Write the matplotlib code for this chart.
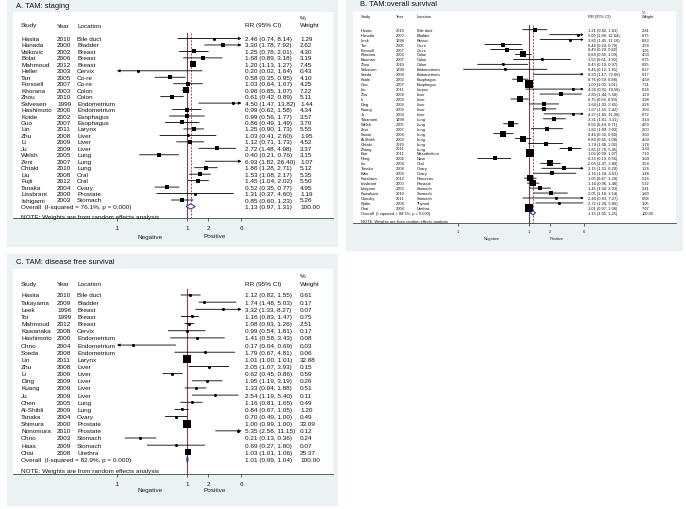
import matplotlib.pyplot as plt
import numpy as np
from matplotlib.patches import Rectangle, Polygon
from matplotlib.ticker import NullLocator
from matplotlib.transforms import blended_transform_factory

plt.rcParams['font.family'] = ['Liberation Sans', 'DejaVu Sans']

# ---------------- A. TAM: staging
a_study = ['Hasita', 'Hanada', 'Valkovic', 'Bolat', 'Mahmoud', 'Heller', 'Tan', 'Forssell', 'Khorana',
           'Zhou', 'Salvesen', 'Hashimoto', 'Koide', 'Guo', 'Lin', 'Zhu', 'Li', 'Ju', 'Welsh', 'Zeni',
           'Ohtaki', 'Liu', 'Fujii', 'Tanaka', 'Lissbrant', 'Ishigami']
a_year = [2010, 2000, 2002, 2006, 2012, 2003, 2005, 2007, 2003, 2010, 1999, 2000, 2002, 2007, 2011,
          2008, 2009, 2009, 2005, 2007, 2010, 2008, 2012, 2004, 2000, 2003]
a_loc = ['Bile duct', 'Bladder', 'Breast', 'Breast', 'Breast', 'Cervix', 'Co-re', 'Co-re', 'Colon',
         'Colon', 'Endometrium', 'Endometrium', 'Esophagus', 'Esophagus', 'Larynx', 'Liver', 'Liver',
         'Liver', 'Lung', 'Lung', 'Lung', 'Oral', 'Oral', 'Ovary', 'Prostate', 'Stomach']
a_rr = [2.46, 3.30, 1.25, 1.68, 1.20, 0.20, 0.58, 1.03, 0.96, 0.61, 4.50, 0.99, 0.99, 0.86, 1.25,
        1.03, 1.12, 2.72, 0.40, 6.93, 1.86, 1.53, 1.45, 0.52, 1.31, 0.85]
a_lo = [0.74, 1.78, 0.78, 0.89, 1.13, 0.02, 0.35, 0.64, 0.85, 0.42, 1.47, 0.62, 0.56, 0.49, 0.90,
        0.41, 0.71, 1.48, 0.21, 1.82, 1.28, 1.08, 1.04, 0.35, 0.37, 0.60]
a_hi = [8.14, 7.92, 2.01, 3.18, 1.27, 1.64, 0.95, 1.67, 1.07, 0.89, 13.82, 1.58, 1.77, 1.49, 1.73,
        2.60, 1.73, 4.98, 0.76, 26.40, 2.71, 2.17, 2.02, 0.77, 4.60, 1.23]
a_wt = [1.29, 2.62, 4.30, 3.19, 7.45, 0.43, 4.10, 4.25, 7.22, 5.11, 1.44, 4.34, 3.57, 3.70, 5.55,
        1.95, 4.52, 3.37, 3.15, 1.07, 5.12, 5.35, 5.50, 4.95, 1.19, 5.26]
a_overall = [1.13, 0.97, 1.31]
a_i2 = '76.1%'

# ---------------- B. TAM: overall survival
b_study = ['Hasita', 'Hanada', 'Leek', 'Tan', 'Forssell', 'Khorana', 'Bauman', 'Zhou', 'Salvesen',
           'Soeda', 'Koide', 'Guo', 'Lin', 'Zhu', 'Li', 'Ding', 'Kuang', 'Ju', 'Takanami', 'Welsh',
           'Zeni', 'Kawai', 'Al-Shibli', 'Ohtaki', 'Zhang', 'Burt', 'Peng', 'Liu', 'Tanaka', 'Wan',
           'Kurahara', 'Lissbrant', 'Ishigami', 'Kawahara', 'Osinsky', 'Ryder', 'Chai']
b_year = [2010, 2000, 1996, 2005, 2007, 2003, 2007, 2010, 1999, 2008, 2002, 2007, 2011, 2008, 2009,
          2009, 2009, 2009, 1999, 2005, 2007, 2008, 2009, 2010, 2011, 2011, 2006, 2008, 2004, 2009,
          2012, 2000, 2003, 2010, 2011, 2008, 2008]
b_loc = ['Bile duct', 'Bladder', 'Breast', 'Co-re', 'Co-re', 'Colon', 'Colon', 'Colon', 'Endometrium',
         'Endometrium', 'Esophagus', 'Esophagus', 'Larynx', 'Liver', 'Liver', 'Liver', 'Liver', 'Liver',
         'Lung', 'Lung', 'Lung', 'Lung', 'Lung', 'Lung', 'Lung', 'Mesothelium', 'Nose', 'Oral', 'Ovary',
         'Ovary', 'Pancreas', 'Prostate', 'Stomach', 'Stomach', 'Stomach', 'Thyroid', 'Urethra']
b_rr = [1.21, 5.00, 3.82, 0.44, 0.49, 0.84, 1.55, 0.43, 0.46, 9.20, 0.76, 1.00, 4.26, 2.83, 0.75,
        1.64, 1.67, 4.27, 2.31, 0.56, 1.82, 0.44, 0.84, 1.74, 3.85, 1.03, 0.33, 2.03, 3.15, 2.16,
        1.05, 1.16, 1.45, 2.05, 2.46, 2.72, 1.01]
b_lo = [0.82, 1.98, 1.45, 0.24, 0.29, 0.65, 0.61, 0.19, 0.12, 1.17, 0.59, 1.00, 0.91, 1.44, 0.56,
        1.03, 1.15, 1.65, 1.61, 0.44, 1.09, 0.32, 0.65, 1.00, 2.76, 0.99, 0.19, 1.47, 1.53, 1.18,
        0.87, 0.96, 1.04, 1.18, 0.83, 1.26, 0.97]
b_hi = [1.81, 12.64, 11.16, 0.79, 0.82, 1.09, 3.92, 0.97, 1.81, 72.68, 0.98, 1.01, 19.58, 5.58, 0.99,
        2.65, 2.42, 11.06, 3.31, 0.71, 3.03, 0.60, 1.08, 3.02, 5.45, 1.07, 0.56, 2.80, 6.29, 4.63,
        1.28, 1.40, 2.03, 3.54, 7.27, 5.86, 1.06]
b_wt = [2.81, 0.75, 0.83, 1.58, 1.95, 4.33, 0.75, 0.95, 0.37, 0.17, 4.39, 7.21, 0.36, 1.29, 3.98,
        2.26, 3.03, 0.72, 3.14, 4.59, 2.00, 3.63, 4.39, 1.78, 3.34, 7.10, 1.64, 3.54, 1.26, 1.48,
        5.26, 5.32, 3.41, 1.60, 0.58, 1.05, 7.07]
b_overall = [1.15, 1.05, 1.25]
b_i2 = '88.5%'

# ---------------- C. TAM: disease free survival
c_study = ['Hasita', 'Takayama', 'Leek', 'Toi', 'Mahmoud', 'Kawanaka', 'Hashimoto', 'Ohno', 'Soeda',
           'Lin', 'Zhu', 'Li', 'Ding', 'Kuang', 'Ju', 'Chen', 'Al-Shibli', 'Tanaka', 'Shimura',
           'Nonomura', 'Ohno', 'Haas', 'Chai']
c_year = [2010, 2009, 1996, 1999, 2012, 2008, 2000, 2004, 2008, 2011, 2008, 2009, 2009, 2009, 2009,
          2005, 2009, 2004, 2000, 2010, 2003, 2009, 2008]
c_loc = ['Bile duct', 'Bladder', 'Breast', 'Breast', 'Breast', 'Cervix', 'Endometrium', 'Endometrium',
         'Endometrium', 'Larynx', 'Liver', 'Liver', 'Liver', 'Liver', 'Liver', 'Lung', 'Lung', 'Ovary',
         'Prostate', 'Prostate', 'Stomach', 'Stomach', 'Urethra']
c_rr = [1.12, 1.74, 3.32, 1.16, 1.08, 0.99, 1.41, 0.17, 1.79, 1.01, 2.05, 0.62, 1.95, 1.33, 2.54,
        1.16, 0.84, 0.70, 1.00, 5.35, 0.21, 0.69, 1.03]
c_lo = [0.82, 1.48, 1.33, 0.83, 0.93, 0.54, 0.58, 0.04, 0.67, 1.00, 1.07, 0.45, 1.19, 0.94, 1.19,
        0.81, 0.67, 0.49, 0.99, 2.56, 0.13, 0.27, 1.01]
c_hi = [1.55, 5.03, 8.27, 1.47, 1.26, 1.81, 3.43, 0.69, 4.81, 1.01, 3.93, 0.86, 3.19, 1.88, 5.40,
        1.65, 1.05, 1.00, 1.00, 11.15, 0.36, 1.80, 1.06]
c_wt = [0.61, 0.17, 0.07, 0.75, 2.51, 0.17, 0.08, 0.03, 0.06, 32.88, 0.15, 0.59, 0.26, 0.51, 0.11,
        0.49, 1.20, 0.49, 33.09, 0.12, 0.24, 0.07, 25.37]
c_overall = [1.01, 0.99, 1.04]
c_i2 = '82.9%'

tick_vals = [0.1, 1, 2, 6]
tick_labels = ['.1', '1', '2', '6']

W, H = 686, 510
BG = '#eaf2f3'
fig = plt.figure(figsize=(W / 100, H / 100), dpi=100)
fig.patch.set_facecolor('white')


def forest(title, study, year, loc, rr, lo, hi, wt, overall, i2, lay):
    """ Draw one Stata style forest plot inside a pixel box of the figure """
    bx0, by0, bx1, by1 = lay['bg']
    fig.patches.append(Rectangle((bx0 / W, 1 - by1 / H), (bx1 - bx0) / W, (by1 - by0) / H,
                                 transform=fig.transFigure, facecolor=BG, edgecolor='none', zorder=-5))
    px0, py0, px1, py1 = lay['plot']
    ax = fig.add_axes([px0 / W, 1 - py1 / H, (px1 - px0) / W, (py1 - py0) / H])
    ax.set_zorder(1)
    r0, dr = lay['row0'], lay['drow']

    def row(ypx):
        return (ypx - r0) / dr

    x1, dec = lay['x1'], lay['dec']
    ax.set_xscale('log')
    ax.set_xlim(10 ** ((px0 - x1) / dec), 10 ** ((px1 - x1) / dec))
    ybot, ytop = row(py1), row(py0)
    ax.set_ylim(ybot, ytop)
    ax.set_facecolor('white')
    for s in ['top', 'left', 'right']:
        ax.spines[s].set_visible(False)
    ax.spines['bottom'].set_color('#444444')
    ax.spines['bottom'].set_linewidth(0.6)
    ax.set_yticks([])
    ax.set_xticks(tick_vals)
    ax.set_xticklabels(tick_labels)
    ax.xaxis.set_minor_locator(NullLocator())
    fs = lay['fs']
    ax.tick_params(axis='x', length=lay['tlen'], width=0.5, pad=lay['pad'], labelsize=fs,
                   colors='#222222')

    cmin, cmax = tick_vals[0], tick_vals[-1]
    n = len(study)
    # reference lines
    ax.plot([1, 1], [-0.9, ybot], color='#555555', lw=0.8, zorder=1)
    ax.plot([overall[0]] * 2, [-0.9, ybot], color='#d62728', lw=0.6, ls=(0, (2.5, 1.5)), zorder=1)

    # studies
    for i in range(n):
        l, h = max(lo[i], cmin), min(hi[i], cmax)
        if lo[i] < cmin and hi[i] > cmax:
            style = '<|-|>'
        elif hi[i] > cmax:
            style = '-|>'
        elif lo[i] < cmin:
            style = '<|-'
        else:
            style = '-'
        ax.annotate('', xy=(h, i), xytext=(l, i),
                    arrowprops=dict(arrowstyle=style, color='black', lw=0.6,
                                    mutation_scale=lay['arrow'], shrinkA=0, shrinkB=0))
        if cmin <= rr[i] <= cmax:
            side = lay['box'] * np.sqrt(wt[i]) * 0.72
            ax.scatter(rr[i], i, s=side ** 2, marker='s', color='black', linewidths=0, zorder=3)
            ax.plot(rr[i], i, 'o', ms=1.2, color='black', zorder=4)

    # overall diamond
    dh = 0.42
    ax.add_patch(Polygon([(overall[1], n), (overall[0], n - dh), (overall[2], n), (overall[0], n + dh)],
                         closed=True, facecolor='white', edgecolor='#1f2a8c', lw=0.7, zorder=5))

    # text columns
    tr = blended_transform_factory(fig.transFigure, ax.transData)
    cs, cy, cl, cr, cw = [c / W for c in lay['cols']]
    kw = dict(transform=tr, fontsize=fs, va='center', ha='left', clip_on=False, color='#111111')
    hy = row(lay['head'])
    for cx, s in [(cs, 'Study'), (cy, 'Year'), (cl, 'Location'), (cr, 'RR (95% CI)'), (cw, 'Weight')]:
        ax.text(cx, hy, s, **kw)
    ax.text(cw, row(lay['pct']), '%', **kw)
    for i in range(n):
        ax.text(cs, i, study[i], **kw)
        ax.text(cy, i, str(year[i]), **kw)
        ax.text(cl, i, loc[i], **kw)
        ax.text(cr, i, '%.2f (%.2f, %.2f)' % (rr[i], lo[i], hi[i]), **kw)
        ax.text(cw, i, '%.2f' % wt[i], **kw)
    ax.text(cs, n, 'Overall  (I-squared = %s, p = 0.000)' % i2, **kw)
    ax.text(cr, n, '%.2f (%.2f, %.2f)' % tuple(overall), **kw)
    ax.text(cw, n, '100.00', **kw)
    ax.text(cs, n + 1.6, 'NOTE: Weights are from random effects analysis', **kw)

    # favours labels
    fy = row(lay['fav'])
    ax.text(0.3, fy, 'Negative', ha='center', va='center', fontsize=fs, clip_on=False, color='#222222')
    ax.text(2.45, fy, 'Positive', ha='center', va='center', fontsize=fs, clip_on=False, color='#222222')

    tx, ty = lay['title']
    fig.text(tx / W, 1 - ty / H, title, fontsize=lay['tfs'], va='center', ha='left', color='#111111')
    return ax


lay_a = dict(bg=(7, 0, 338, 248), plot=(13, 13, 333, 219), title=(16, 7), x1=187, dec=70,
             row0=39.5, drow=6.46, cols=(21, 57, 77, 245, 300), pct=18, head=26, fav=237,
             fs=4.6, tfs=5.4, box=2.0, arrow=4, tlen=2.2, pad=2.6)
lay_b = dict(bg=(346, 0, 683, 252), plot=(353, 12, 676, 224), title=(360, 5), x1=528.7, dec=70.7,
             row0=30.7, drow=4.95, cols=(361, 396, 417, 588, 642), pct=12.5, head=17, fav=239,
             fs=2.9, tfs=5.4, box=2.7, arrow=3, tlen=1.8, pad=2.2)
lay_c = dict(bg=(7, 255, 338, 507), plot=(13, 270, 333, 475), title=(16, 263), x1=187, dec=70,
             row0=296, drow=7.15, cols=(21, 57, 77, 245, 300), pct=277, head=285, fav=491,
             fs=4.6, tfs=5.4, box=1.35, arrow=4, tlen=2.2, pad=2.6)

forest('A. TAM: staging', a_study, a_year, a_loc, a_rr, a_lo, a_hi, a_wt, a_overall, a_i2, lay_a)
forest('B. TAM:overall survival', b_study, b_year, b_loc, b_rr, b_lo, b_hi, b_wt, b_overall, b_i2, lay_b)
forest('C. TAM: disease free survival', c_study, c_year, c_loc, c_rr, c_lo, c_hi, c_wt, c_overall, c_i2,
       lay_c)

fig.savefig('out.png', dpi=100, facecolor='white')
